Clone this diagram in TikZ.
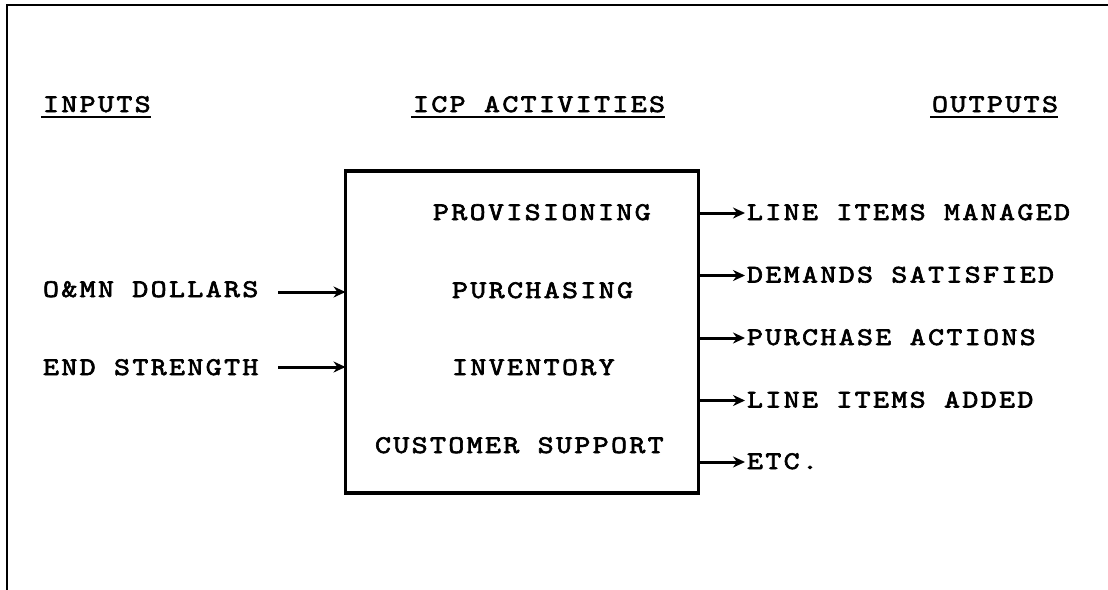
\documentclass[tikz,border=0pt]{standalone}
\usepackage{fontspec}
\newfontfamily\tw{lmmono10-regular}[Extension=.otf, FakeStretch=1.2, LetterSpace=9.2, FakeBold=2.5]
\usetikzlibrary{arrows.meta}
\tikzset{
  txt/.style={font=\tw\fontsize{25.4}{30}\selectfont, anchor=base west, inner sep=0pt, outer sep=0pt},
  uline/.style={line width=2.6pt},
  arr/.style={line width=3pt, -{Stealth[length=12pt,width=11pt]}},
  boxst/.style={draw, line width=3.2pt, minimum width=353pt, minimum height=322pt, inner sep=0pt, outer sep=0pt},
  frame/.style={line width=2.6pt}
}
\begin{document}
\begin{tikzpicture}[x=1pt,y=-1pt]
\useasboundingbox (0,0) rectangle (1108,589);
% frame (top and left edges)
\draw[frame] (1110,5) -- (7,5) -- (7,592);
% headers
\node[txt] (inputs) at (43,112) {INPUTS};
\node[txt] (icp) at (413,112) {ICP ACTIVITIES};
\node[txt] (outputs) at (932,112) {OUTPUTS};
\foreach \n in {inputs,icp,outputs}{
  \draw[uline] ([yshift=-5pt,xshift=-2pt]\n.base west) -- ([yshift=-5pt,xshift=0pt]\n.base east);
}
% central box
\node[boxst] (box) at (522,332) {};
\node[txt] (prov) at (433,220) {PROVISIONING};
\node[txt] (purch) at (452,298) {PURCHASING};
\node[txt] (inv) at (452,375) {INVENTORY};
\node[txt] (cust) at (375,453) {CUSTOMER SUPPORT};
% inputs
\node[txt] (omn) at (43,297) {O\&MN DOLLARS};
\node[txt] (end) at (43,375) {END STRENGTH};
\coordinate (l1) at (278,292);
\coordinate (l2) at (278,367);
\draw[arr] (l1) -- (box.west |- l1);
\draw[arr] (l2) -- (box.west |- l2);
% outputs
\node[txt] (o1) at (747,220) {LINE ITEMS MANAGED};
\node[txt] (o2) at (747,282.5) {DEMANDS SATISFIED};
\node[txt] (o3) at (747,345) {PURCHASE ACTIONS};
\node[txt] (o4) at (747,407.5) {LINE ITEMS ADDED};
\node[txt] (o5) at (747,469) {ETC.};
\foreach \i/\y in {1/213,2/275.5,3/338,4/400.5,5/462}{
  \coordinate (r\i) at (745,\y);
  \draw[arr] (box.east |- r\i) -- (r\i);
}
\end{tikzpicture}
\end{document}
